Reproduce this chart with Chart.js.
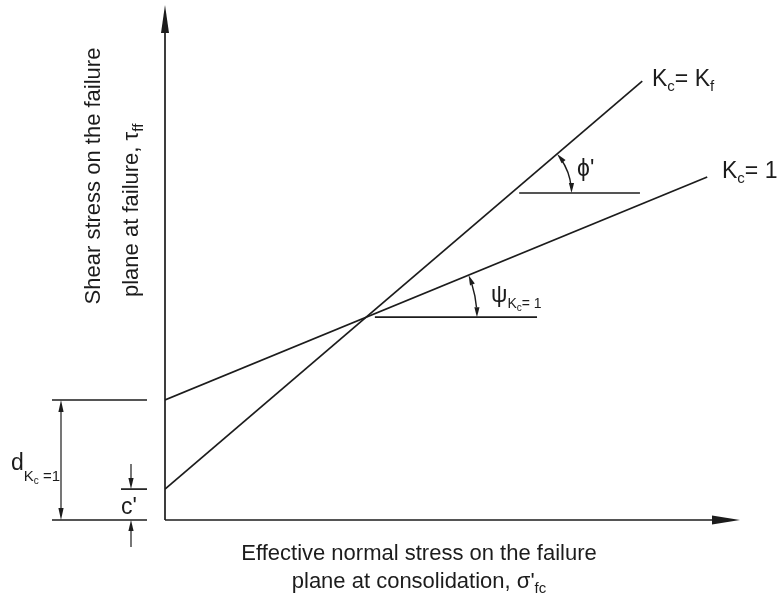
<!DOCTYPE html>
<html>
<head>
<meta charset="utf-8">
<script src="https://cdn.jsdelivr.net/npm/chart.js@4.4.1/dist/chart.umd.min.js"></script>
<style>
    html, body { margin: 0; padding: 0; background: #fff; }
</style>
</head>
<body>
<canvas id="grafico" width="782" height="597"></canvas>
<script>
// schematic diagram, arbitrary units
const limitesX = [0, 10];
const limitesY = [0, 10];
const linhaKf = [{ x: 0, y: 0.60 }, { x: 8.30, y: 8.52 }];   // Kc = Kf
const linhaK1 = [{ x: 0, y: 2.33 }, { x: 9.43, y: 6.66 }];   // Kc = 1
const refPsi = [{ x: 3.65, y: 3.94 }, { x: 6.47, y: 3.94 }];
const refPhi = [{ x: 6.16, y: 6.35 }, { x: 8.26, y: 6.35 }];
const valorC = 0.60;
const valorD = 2.33;

const COR = '#1c1c1c';
const FONTE = '"Liberation Sans", Arial, Helvetica, sans-serif';

function seta(ctx, x, y, ang, comp, larg) {
    ctx.save();
    ctx.translate(x, y);
    ctx.rotate(ang);
    ctx.beginPath();
    ctx.moveTo(0, 0);
    ctx.lineTo(-comp, -larg);
    ctx.lineTo(-comp, larg);
    ctx.closePath();
    ctx.fill();
    ctx.restore();
}

function linha(ctx, x1, y1, x2, y2) {
    ctx.beginPath();
    ctx.moveTo(x1, y1);
    ctx.lineTo(x2, y2);
    ctx.stroke();
}

// partes: [texto, tamanho, deslocamento vertical]
function texto(ctx, partes, x, y, alinhar) {
    let largura = 0;
    partes.forEach(p => {
        ctx.font = p[1] + 'px ' + FONTE;
        largura += ctx.measureText(p[0]).width;
    });
    let cx = alinhar === 'center' ? x - largura / 2 : x;
    partes.forEach(p => {
        ctx.font = p[1] + 'px ' + FONTE;
        ctx.fillText(p[0], cx, y + (p[2] || 0));
        cx += ctx.measureText(p[0]).width;
    });
}

function pontoY(reta, y) {
    const m = (reta[1].y - reta[0].y) / (reta[1].x - reta[0].x);
    return (y - reta[0].y) / m + reta[0].x;
}

function intersecao(a, b) {
    const ma = (a[1].y - a[0].y) / (a[1].x - a[0].x);
    const mb = (b[1].y - b[0].y) / (b[1].x - b[0].x);
    const x = (b[0].y - a[0].y) / (ma - mb);
    return { x, y: a[0].y + ma * x };
}

function arcoAngulo(ctx, sx, sy, reta, centro, raio) {
    const cx = sx.getPixelForValue(centro.x);
    const cy = sy.getPixelForValue(centro.y);
    const ang = Math.atan2(
        sy.getPixelForValue(reta[1].y) - sy.getPixelForValue(reta[0].y),
        sx.getPixelForValue(reta[1].x) - sx.getPixelForValue(reta[0].x));
    const a1 = ang + 0.09, a2 = -0.09;
    ctx.beginPath();
    ctx.arc(cx, cy, raio, a1, a2);
    ctx.stroke();
    seta(ctx, cx + raio * Math.cos(ang), cy + raio * Math.sin(ang), Math.atan2(-Math.cos(ang), Math.sin(ang)), 10, 2.6);
    seta(ctx, cx + raio, cy, Math.PI / 2, 10, 2.6);
}

const desenhos = {
    id: 'desenhos',
    afterDraw(chart) {
        const ctx = chart.ctx;
        const sx = chart.scales.x, sy = chart.scales.y;
        const x0 = sx.getPixelForValue(0), y0 = sy.getPixelForValue(0);
        ctx.save();
        ctx.strokeStyle = COR;
        ctx.fillStyle = COR;
        ctx.lineWidth = 1.7;

        // eixos com setas
        linha(ctx, x0, y0, x0, 30);
        seta(ctx, x0, 5, -Math.PI / 2, 28, 4);
        linha(ctx, x0, y0, 715, y0);
        seta(ctx, 740, y0, 0, 28, 4.5);

        // cotas à esquerda
        const yD = sy.getPixelForValue(valorD), yC = sy.getPixelForValue(valorC);
        linha(ctx, 52, yD, 147, yD);
        linha(ctx, 52, y0, 147, y0);
        linha(ctx, 121, yC, 147, yC);
        ctx.lineWidth = 1.2;
        linha(ctx, 61, yD + 6, 61, y0 - 6);
        seta(ctx, 61, yD, -Math.PI / 2, 12, 2.6);
        seta(ctx, 61, y0, Math.PI / 2, 12, 2.6);
        linha(ctx, 131, yC - 25, 131, yC - 6);
        seta(ctx, 131, yC, Math.PI / 2, 11, 2.6);
        linha(ctx, 131, y0 + 27, 131, y0 + 6);
        seta(ctx, 131, y0, -Math.PI / 2, 11, 2.6);

        // arcos dos ângulos
        ctx.lineWidth = 1.4;
        arcoAngulo(ctx, sx, sy, linhaKf, { x: pontoY(linhaKf, refPhi[0].y), y: refPhi[0].y }, 60);
        arcoAngulo(ctx, sx, sy, linhaK1, intersecao(linhaKf, linhaK1), 111);

        // textos
        ctx.textBaseline = 'alphabetic';
        texto(ctx, [['K', 23], ['c', 15, 5], ['= K', 23], ['f', 15, 5]], 652, 86);
        texto(ctx, [['K', 23], ['c', 15, 5], ['= 1', 23]], 722, 178);
        texto(ctx, [["ϕ'", 23]], 577, 176);
        texto(ctx, [['ψ', 23], ['K', 14, 6], ['c', 10, 9], ['= 1', 14, 6]], 491, 302);
        texto(ctx, [['d', 23], ['K', 15, 11], ['c', 10, 14], [' =1', 15, 11]], 11, 470);
        texto(ctx, [["c'", 23]], 121, 514);

        texto(ctx, [['Effective normal stress on the failure', 22]], 419, 560, 'center');
        texto(ctx, [["plane at consolidation, σ'", 22], ['fc', 15, 5]], 419, 588, 'center');

        ctx.save();
        ctx.translate(100, 176);
        ctx.rotate(-Math.PI / 2);
        texto(ctx, [['Shear stress on the failure', 22]], 0, 0, 'center');
        ctx.restore();
        ctx.save();
        ctx.translate(138, 297);
        ctx.rotate(-Math.PI / 2);
        texto(ctx, [['plane at failure, τ', 22], ['ff', 15, 5]], 0, 0);
        ctx.restore();

        ctx.restore();
    }
};

function serie(pontos) {
    return {
        data: pontos,
        showLine: true,
        pointRadius: 0,
        borderColor: COR,
        borderWidth: 1.7,
        fill: false
    };
}

new Chart(document.getElementById('grafico'), {
    type: 'scatter',
    data: {
        datasets: [serie(linhaKf), serie(linhaK1), serie(refPsi), serie(refPhi)]
    },
    options: {
        responsive: false,
        animation: false,
        events: [],
        layout: { padding: { left: 165, right: 42, top: 5, bottom: 77 } },
        scales: {
            x: { type: 'linear', min: limitesX[0], max: limitesX[1], display: false },
            y: { type: 'linear', min: limitesY[0], max: limitesY[1], display: false }
        },
        plugins: {
            legend: { display: false },
            tooltip: { enabled: false }
        }
    },
    plugins: [desenhos]
});
</script>
</body>
</html>
